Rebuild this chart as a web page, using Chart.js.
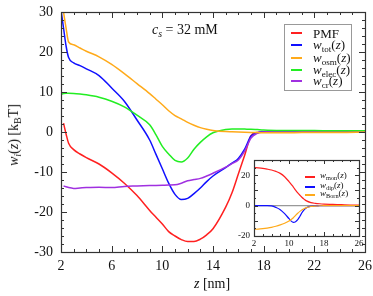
<!DOCTYPE html>
<html>
<head>
<meta charset="utf-8">
<script src="https://cdn.jsdelivr.net/npm/chart.js@4"></script>
<style>
  body { margin: 0; background: #fff; }
  #wrap { position: relative; width: 373px; height: 296px; font-family: "Liberation Serif", "DejaVu Serif", serif; color: #111; }
  canvas { position: absolute; }
  .txt { position: absolute; white-space: nowrap; line-height: 1; }
  .txt sub { font-size: 0.7em; vertical-align: -0.3em; line-height: 0; }
  .leg { position: absolute; border: 1px solid #999; background: #fff; box-sizing: border-box; }
  .sample { position: absolute; height: 2px; }
</style>
</head>
<body>
<div id="wrap">
  <canvas id="main" width="373" height="296" style="left:0;top:0"></canvas>
  <canvas id="inset" width="143" height="100" style="left:230px;top:152px"></canvas>

  <div class="txt" style="left:152px;top:23px;font-size:14px"><i>c<sub>s</sub></i> = 32 mM</div>
  <div class="txt" style="left:194px;top:277px;font-size:14px"><i>z</i> [nm]</div>
  <div class="txt" style="left:14px;top:135px;font-size:14px;transform:translate(-50%,-50%) rotate(-90deg)"><i>w<sub>i</sub></i>(<i>z</i>) [k<sub>B</sub>T]</div>

  <div class="leg" style="left:284px;top:24px;width:68px;height:67px"></div>
  <div class="sample" style="left:291px;top:32px;width:11px;background:#ff2020"></div>
  <div class="sample" style="left:291px;top:44px;width:11px;background:#1010ff"></div>
  <div class="sample" style="left:291px;top:57px;width:11px;background:#ffaa1a"></div>
  <div class="sample" style="left:291px;top:69px;width:11px;background:#22ee22"></div>
  <div class="sample" style="left:291px;top:80px;width:11px;background:#a030e0"></div>
  <div class="txt" style="left:313px;top:27px;font-size:13px">PMF</div>
  <div class="txt" style="left:313px;top:38px;font-size:13px"><i>w</i><sub>tot</sub>(<i>z</i>)</div>
  <div class="txt" style="left:313px;top:51px;font-size:13px"><i>w</i><sub>osm</sub>(<i>z</i>)</div>
  <div class="txt" style="left:313px;top:63px;font-size:13px"><i>w</i><sub>elec</sub>(<i>z</i>)</div>
  <div class="txt" style="left:313px;top:74px;font-size:13px"><i>w</i><sub>cr</sub>(<i>z</i>)</div>

  <div class="sample" style="left:305px;top:176px;width:10px;height:1.5px;background:#ff2020"></div>
  <div class="sample" style="left:305px;top:186px;width:10px;height:1.5px;background:#1010ff"></div>
  <div class="sample" style="left:305px;top:194px;width:10px;height:1.5px;background:#ffaa1a"></div>
  <div class="txt" style="left:320px;top:171px;font-size:9px"><i>w</i><sub>mon</sub>(<i>z</i>)</div>
  <div class="txt" style="left:320px;top:181px;font-size:9px"><i>w</i><sub>dip</sub>(<i>z</i>)</div>
  <div class="txt" style="left:320px;top:189px;font-size:9px"><i>w</i><sub>Born</sub>(<i>z</i>)</div>
</div>
<script>
// --- main panel data (z in nm, w in kBT) ---
const zMain = [2, 2.2, 2.4, 2.6, 3, 3.5, 4, 5, 6, 7, 8, 9, 9.5, 10, 10.5, 11, 11.5, 12, 12.5, 13, 13.5, 14, 15, 15.5, 16, 16.5, 17, 17.5, 18, 19, 20, 22, 24, 26];
const pmf  = [null, 2.2, -0.5, -2.8, -4.4, -5.5, -6.4, -8.0, -10.2, -12.8, -15.9, -19.6, -21.3, -23.0, -24.9, -26.0, -26.9, -27.4, -27.4, -26.8, -25.7, -24.2, -18.8, -15.2, -10.5, -5.8, -0.9, -0.1, 0, 0.1, 0.1, 0.1, 0.1, 0.1];
const wTot = [30.5, 26, 21.5, 18.6, 17.3, 16.6, 15.8, 14.1, 11.0, 7.7, 3.0, -2.0, -5.6, -9.2, -12.8, -15.6, -16.9, -16.6, -15.4, -14.0, -12.4, -11.0, -8.9, -7.8, -6.6, -4.3, -1.0, -0.2, 0, 0.1, 0.1, 0.1, 0.1, 0.1];
const wOsm = [35, 30, 26, 22.5, 21.8, 21.0, 20.2, 18.8, 16.9, 14.6, 12.1, 9.6, 8.2, 6.8, 5.3, 4.1, 3.3, 2.4, 1.7, 1.1, 0.7, 0.4, 0.1, 0.05, 0, -0.05, -0.1, -0.15, -0.2, -0.2, -0.2, -0.1, -0.1, 0];
const wElec = [9.4, 9.6, 9.7, 9.7, 9.65, 9.5, 9.3, 8.7, 7.7, 6.3, 4.2, 1.8, -0.7, -3.6, -5.5, -7.1, -7.5, -6.5, -4.3, -2.6, -1.2, -0.2, 0.6, 0.75, 0.75, 0.72, 0.7, 0.6, 0.5, 0.4, 0.4, 0.35, 0.3, 0.3];
const wCr  = [null, -13.5, -13.7, -13.9, -14.1, -14.0, -13.9, -13.8, -13.9, -13.6, -13.5, -13.4, -13.35, -13.3, -13.25, -13.2, -12.8, -12.2, -11.9, -11.6, -11.0, -10.3, -8.8, -7.9, -7.0, -4.8, -1.5, -0.3, 0, 0.1, 0.1, 0.1, 0.1, 0.1];
const mainXTicks = [2, 6, 10, 14, 18, 22, 26];
const mainYTicks = [-30, -20, -10, 0, 10, 20, 30];

// --- inset data ---
const zInset = [2, 3, 4, 5, 6, 7, 8, 9, 10, 10.5, 11, 11.5, 12, 12.5, 13, 13.5, 14, 15, 16, 17, 18, 20, 22, 24, 26];
const wMon  = [25, 24.8, 24.5, 24, 23.4, 22.5, 21.2, 19, 15.8, 14, 12.2, 10.2, 8.4, 6.8, 5.3, 4.1, 3.1, 2, 1.5, 1.2, 1.0, 0.8, 0.6, 0.4, 0.3];
const wDip  = [0, 0, 0, 0, -0.2, -1.2, -2.7, -5.3, -8.6, -10.2, -11, -10.6, -9.3, -7, -4.5, -2.6, -1.4, -0.5, -0.2, -0.1, 0, 0, 0, 0, 0];
const wBorn = [-15.6, -15.5, -15.2, -14.8, -14.3, -13.6, -12.7, -11.6, -10.2, -9.2, -8, -6.4, -5, -3.8, -2.8, -1.9, -1.3, -0.6, -0.3, -0.1, 0, 0, 0, 0, 0];
const insetXTicks = [2, 10, 18, 26];
const insetYTicks = [-20, 0, 20];

const serif = '"Liberation Serif", "DejaVu Serif", serif';
const pts = (xs, ys) => xs.map((x, i) => ({ x: x, y: ys[i] }));
const line = (data, color, w) => ({
    data: data, borderColor: color, borderWidth: w, pointRadius: 0,
    fill: false, cubicInterpolationMode: 'monotone', spanGaps: false
});

// inward ticks on all four sides plus frame
const frameTicks = {
    id: 'frameTicks',
    beforeDraw(chart, args, opts) {
        const a = chart.chartArea, c = chart.ctx;
        c.save();
        c.fillStyle = '#fff';
        c.fillRect(a.left, a.top, a.right - a.left, a.bottom - a.top);
        c.restore();
    },
    afterDraw(chart, args, opts) {
        const a = chart.chartArea, c = chart.ctx;
        const xs = chart.scales.x, ys = chart.scales.y;
        c.save();
        c.strokeStyle = '#333';
        c.lineWidth = 1;
        c.beginPath();
        for (let v = xs.min; v <= xs.max + 1e-9; v += opts.xMinor) {
            const px = Math.round(xs.getPixelForValue(v)) + 0.5;
            const len = opts.xMajor.includes(v) ? opts.major : opts.minor;
            c.moveTo(px, a.bottom); c.lineTo(px, a.bottom - len);
            c.moveTo(px, a.top); c.lineTo(px, a.top + len);
        }
        for (let v = ys.min; v <= ys.max + 1e-9; v += opts.yMinor) {
            const py = Math.round(ys.getPixelForValue(v)) + 0.5;
            const len = opts.yMajor.includes(v) ? opts.major : opts.minor;
            c.moveTo(a.left, py); c.lineTo(a.left + len, py);
            c.moveTo(a.right, py); c.lineTo(a.right - len, py);
        }
        c.stroke();
        c.lineWidth = 1.2;
        c.strokeRect(Math.round(a.left) + 0.5, Math.round(a.top) + 0.5, Math.round(a.right - a.left), Math.round(a.bottom - a.top));
        c.restore();
    }
};

const fitX = h => s => { s.height = h; s.paddingLeft = 0; s.paddingRight = 0; };
const fitY = w => s => { s.width = w; s.paddingTop = 0; s.paddingBottom = 0; };

new Chart(document.getElementById('main'), {
    type: 'line',
    data: {
        datasets: [
            line(pts(zMain, wOsm), '#ffaa1a', 1.5),
            line(pts(zMain, wElec), '#22ee22', 1.5),
            line(pts(zMain, wCr), '#a030e0', 1.5),
            line(pts(zMain, wTot), '#1010ff', 1.5),
            line(pts(zMain, pmf), '#ff2020', 1.5)
        ]
    },
    options: {
        responsive: false, animation: false, devicePixelRatio: 1,
        layout: { padding: { top: 12, right: 8, left: 0, bottom: 0 } },
        plugins: {
            legend: { display: false }, tooltip: { enabled: false },
            frameTicks: { xMinor: 1, yMinor: 2, xMajor: mainXTicks, yMajor: mainYTicks, major: 6, minor: 3 }
        },
        scales: {
            x: {
                type: 'linear', min: 2, max: 26,
                afterBuildTicks: s => { s.ticks = mainXTicks.map(v => ({ value: v })); },
                afterFit: fitX(44),
                grid: { display: false, drawTicks: false }, border: { display: false },
                ticks: { color: '#111', font: { family: serif, size: 14 }, padding: 6, maxRotation: 0, autoSkip: false }
            },
            y: {
                type: 'linear', min: -30, max: 30,
                afterBuildTicks: s => { s.ticks = mainYTicks.map(v => ({ value: v })); },
                afterFit: fitY(61),
                grid: { display: false, drawTicks: false }, border: { display: false },
                ticks: { color: '#111', font: { family: serif, size: 14 }, padding: 8, autoSkip: false }
            }
        }
    },
    plugins: [frameTicks]
});

new Chart(document.getElementById('inset'), {
    type: 'line',
    data: {
        datasets: [
            line(pts(zInset, wBorn), '#ffaa1a', 1.2),
            line(pts(zInset, wDip), '#1010ff', 1.2),
            line(pts(zInset, wMon), '#ff2020', 1.2)
        ]
    },
    options: {
        responsive: false, animation: false, devicePixelRatio: 1,
        layout: { padding: { top: 8, right: 14, left: 0, bottom: 0 } },
        plugins: {
            legend: { display: false }, tooltip: { enabled: false },
            frameTicks: { xMinor: 2, yMinor: 5, xMajor: insetXTicks, yMajor: [-20, -10, 0, 10, 20, 30], major: 4, minor: 2 }
        },
        scales: {
            x: {
                type: 'linear', min: 2, max: 26,
                afterBuildTicks: s => { s.ticks = insetXTicks.map(v => ({ value: v })); },
                afterFit: fitX(16),
                grid: { display: false, drawTicks: false }, border: { display: false },
                ticks: { color: '#111', font: { family: serif, size: 9 }, padding: 2, maxRotation: 0, autoSkip: false }
            },
            y: {
                type: 'linear', min: -20, max: 30,
                afterBuildTicks: s => { s.ticks = insetYTicks.map(v => ({ value: v })); },
                afterFit: fitY(24),
                grid: {
                    drawTicks: false,
                    color: ctx => (ctx.tick && ctx.tick.value === 0) ? '#999' : 'rgba(0,0,0,0)',
                    lineWidth: 1.2
                },
                border: { display: false },
                ticks: { color: '#111', font: { family: serif, size: 9 }, padding: 4, autoSkip: false }
            }
        }
    },
    plugins: [frameTicks]
});
</script>
</body>
</html>
